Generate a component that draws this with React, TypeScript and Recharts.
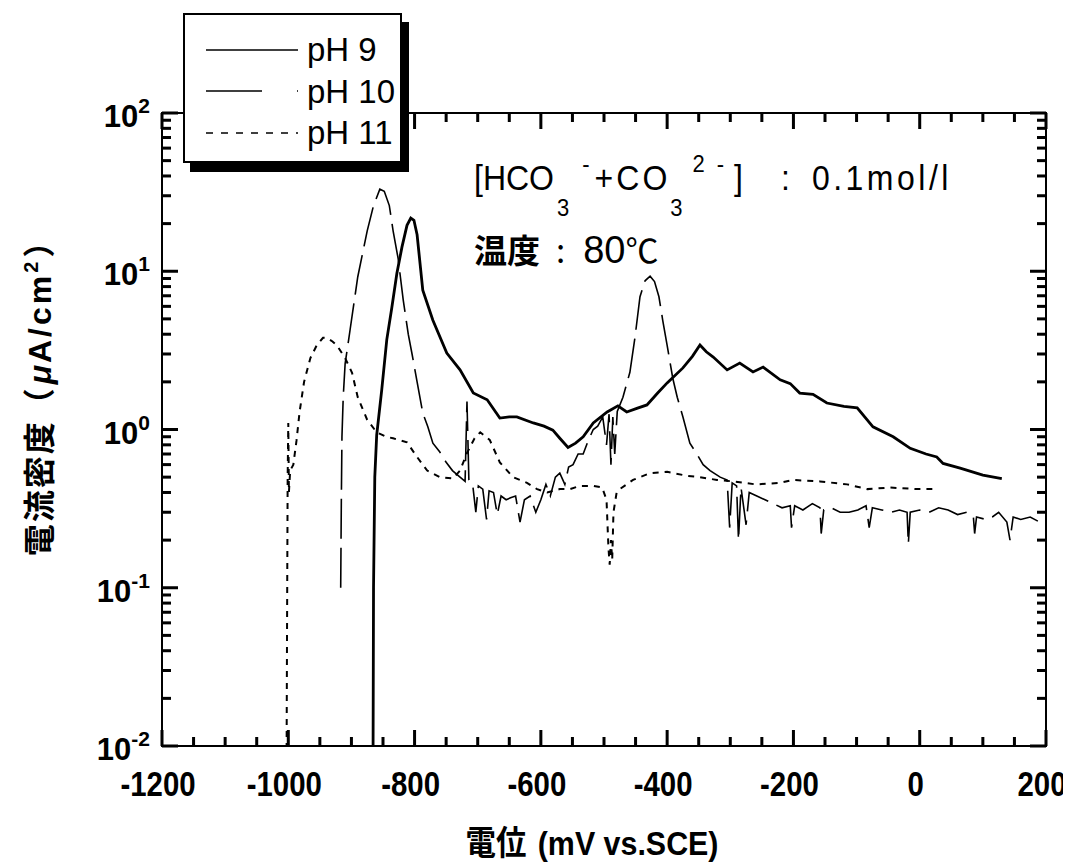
import React from 'react'
import { LineChart, Line, XAxis, YAxis } from 'recharts'

// polarization curves, [potential mV vs SCE, current density uA/cm2]
const ph9: [number, number][] = [
  [-866, 0.004], [-865, 0.1], [-863, 0.5], [-860, 0.92], [-852, 1.78], [-844, 3.7], [-836, 5.9],
  [-828, 9.7], [-820, 14.2], [-812, 19.5], [-806, 21.7], [-801, 21], [-796, 17], [-787, 7.6],
  [-771, 4.9], [-749, 3.04], [-728, 2.38], [-707, 1.7], [-685, 1.54], [-665, 1.18], [-650, 1.2],
  [-638, 1.2], [-612, 1.1], [-595, 1.05], [-581, 0.99], [-570, 0.88], [-557, 0.77], [-545, 0.82],
  [-533, 0.9], [-517, 1.1], [-495, 1.29], [-478, 1.41], [-464, 1.29], [-448, 1.36], [-432, 1.43],
  [-415, 1.7], [-400, 1.97], [-375, 2.45], [-360, 2.9], [-348, 3.42], [-338, 3.1], [-327, 2.87],
  [-305, 2.38], [-285, 2.63], [-264, 2.31], [-248, 2.48], [-221, 2.06], [-205, 1.95], [-190, 1.7],
  [-169, 1.67], [-147, 1.47], [-120, 1.4], [-99, 1.37], [-74, 1.04], [-42, 0.9], [-15, 0.76],
  [10, 0.7], [27, 0.67], [37, 0.61], [64, 0.57], [100, 0.515], [130, 0.49],
]

const ph10: [number, number][] = [
  [-917, 0.1], [-916, 0.35], [-915, 0.9], [-913, 1.6], [-910, 2.6], [-902, 4.3], [-890, 9.2],
  [-875, 18], [-865, 26], [-855, 33], [-848, 32], [-840, 26], [-834, 18], [-826, 12], [-818, 6.6],
  [-810, 4.0], [-804, 3.0], [-796, 2.0], [-787, 1.27], [-779, 1.04], [-771, 0.82], [-760, 0.72],
  [-750, 0.62], [-740, 0.55], [-728, 0.5], [-720, 0.47], [-717, 1.5], [-714, 0.48], [-708, 0.45],
  [-703, 0.3], [-699, 0.44], [-692, 0.42], [-686, 0.27], [-682, 0.41], [-675, 0.4], [-669, 0.29],
  [-663, 0.38], [-655, 0.36], [-648, 0.37], [-640, 0.38], [-633, 0.26], [-626, 0.36], [-617, 0.38],
  [-608, 0.3], [-600, 0.36], [-592, 0.45], [-585, 0.38], [-577, 0.5], [-570, 0.53], [-562, 0.45],
  [-556, 0.58], [-549, 0.6], [-541, 0.7], [-533, 0.7], [-525, 0.85], [-517, 1.0], [-510, 1.05],
  [-502, 1.2], [-496, 0.8], [-492, 1.25], [-489, 0.6], [-486, 1.2], [-483, 0.7], [-479, 1.3],
  [-470, 1.6], [-459, 2.3], [-451, 3.8], [-443, 6.9], [-435, 8.7], [-427, 9.3], [-420, 8.6],
  [-413, 6.9], [-407, 4.9], [-400, 3.4], [-391, 2.1], [-384, 1.6], [-375, 1.2], [-364, 0.82],
  [-353, 0.7], [-343, 0.6], [-332, 0.55], [-316, 0.5], [-305, 0.48], [-301, 0.24], [-297, 0.46],
  [-290, 0.44], [-287, 0.2], [-283, 0.43], [-275, 0.25], [-270, 0.4], [-258, 0.38], [-245, 0.36],
  [-232, 0.34], [-218, 0.32], [-205, 0.33], [-203, 0.24], [-198, 0.33], [-185, 0.31], [-170, 0.34],
  [-158, 0.32], [-156, 0.22], [-152, 0.31], [-140, 0.32], [-126, 0.3], [-112, 0.3], [-98, 0.31],
  [-85, 0.33], [-80, 0.24], [-75, 0.32], [-60, 0.31], [-45, 0.3], [-32, 0.31], [-20, 0.3],
  [-18, 0.19], [-15, 0.3], [0, 0.31], [15, 0.3], [30, 0.32], [45, 0.31], [60, 0.29], [75, 0.3],
  [85, 0.28], [87, 0.22], [90, 0.28], [105, 0.27], [115, 0.28], [125, 0.3], [138, 0.26],
  [143, 0.2], [148, 0.28], [160, 0.27], [175, 0.28], [190, 0.26],
]

const ph11: [number, number][] = [
  [-1003, 0.004], [-1002, 0.05], [-1001, 0.5], [-1000, 1.1], [-999, 0.4], [-997, 0.55], [-992, 0.6],
  [-987, 0.85], [-982, 1.3], [-975, 2.0], [-965, 2.83], [-955, 3.4], [-945, 3.8], [-939, 3.8],
  [-930, 3.6], [-923, 3.4], [-910, 2.83], [-899, 2.28], [-890, 1.6], [-875, 1.15], [-860, 0.96],
  [-845, 0.9], [-834, 0.88], [-812, 0.83], [-796, 0.67], [-780, 0.55], [-760, 0.5], [-739, 0.49],
  [-728, 0.55], [-717, 0.71], [-705, 0.88], [-696, 0.96], [-681, 0.86], [-665, 0.62], [-644, 0.5],
  [-622, 0.46], [-606, 0.42], [-590, 0.4], [-570, 0.42], [-554, 0.42], [-538, 0.44], [-517, 0.44],
  [-503, 0.43], [-496, 0.36], [-493, 0.18], [-491, 0.14], [-489, 0.2], [-487, 0.15], [-485, 0.3],
  [-480, 0.4], [-475, 0.42], [-454, 0.48], [-427, 0.53], [-400, 0.54], [-369, 0.51], [-348, 0.5],
  [-321, 0.48], [-296, 0.47], [-260, 0.45], [-221, 0.46], [-201, 0.48], [-158, 0.47], [-115, 0.45],
  [-83, 0.42], [-47, 0.43], [-4, 0.42], [20, 0.42],
]

const xTicks = [
  -1200, -1150, -1100, -1050, -1000, -950, -900, -850, -800, -750, -700, -650, -600, -550, -500,
  -450, -400, -350, -300, -250, -200, -150, -100, -50, 0, 50, 100, 150, 200,
]
const xLabels = [-1200, -1000, -800, -600, -400, -200, 0, 200]
const yDecades = [0.01, 0.1, 1, 10, 100]
const yExponents = ['-2', '-1', '0', '1', '2']
const yMinorSteps = [2, 3, 4, 5, 6, 7, 8, 9]

const series = [
  { name: 'pH 9', data: ph9, width: 2.8, dash: undefined, legendDash: undefined },
  { name: 'pH 10', data: ph10, width: 1.6, dash: '40 9', legendDash: '56 35' },
  { name: 'pH 11', data: ph11, width: 2, dash: '6 6', legendDash: '7 8' },
]

const toPoints = (d: [number, number][]) => d.map(([x, y]) => ({ x, y }))

const yTicks = yDecades.flatMap((d, i) =>
  i < yDecades.length - 1 ? [d, ...yMinorSteps.map(m => +(d * m).toPrecision(3))] : [d]
)

// plot box inside the svg
const W = 1060
const H = 855
const PL = 154
const PR = 1038
const PT = 105
const PB = 738

const latin = "'Liberation Sans', Arial, sans-serif"
const cjk = "'Noto Sans CJK JP', 'Liberation Sans', sans-serif"

function XTick(props: any) {
  const { payload, index } = props
  const x = Number(props.x)
  const v = payload.value
  const major = xLabels.includes(v)
  const len = major ? 16 : 9
  return (
    <g>
      {index === 0 && (
        <rect x={PL} y={PT} width={PR - PL} height={PB - PT} fill="none" stroke="#000" strokeWidth={2} />
      )}
      <rect x={x - 1.5} y={PB - len} width={3} height={len} fill="#000" />
      <rect x={x - 1.5} y={PT} width={3} height={len} fill="#000" />
      {major && (
        <text
          transform={`translate(${x - 4},${PB + 50}) scale(0.84,1)`}
          textAnchor="middle"
          fontFamily={latin}
          fontWeight={700}
          fontSize={35}
          fill="#000"
        >
          {v}
        </text>
      )}
    </g>
  )
}

function YTick(props: any) {
  const { payload } = props
  const y = Number(props.y)
  const v = payload.value
  const idx = yDecades.indexOf(v)
  const major = idx >= 0
  const len = major ? 16 : 9
  return (
    <g>
      <rect x={PL} y={y - 1.5} width={len} height={3} fill="#000" />
      <rect x={PR - len} y={y - 1.5} width={len} height={3} fill="#000" />
      {major && (
        <text x={PL - 12} y={y + 14} textAnchor="end" fontFamily={latin} fontWeight={700} fontSize={31} fill="#000">
          <tspan>10</tspan>
          <tspan dy={-14} fontSize={21}>{yExponents[idx]}</tspan>
        </text>
      )}
    </g>
  )
}

function LegendBox() {
  return (
    <div
      style={{
        position: 'absolute',
        left: 175,
        top: 5,
        width: 219,
        height: 150,
        border: '2px solid #000',
        boxShadow: '7px 9px 0 #000',
        background: '#fff',
        boxSizing: 'border-box',
        paddingTop: 14,
        paddingLeft: 21,
      }}
    >
      {series.map(s => (
        <div key={s.name} style={{ display: 'flex', alignItems: 'center', height: 41.5 }}>
          <svg width={92} height={10}>
            <line x1={0} x2={92} y1={5} y2={5} stroke="#000" strokeWidth={1.6} strokeDasharray={s.legendDash} />
          </svg>
          <span style={{ marginLeft: 9, fontFamily: latin, fontSize: 33, color: '#000', lineHeight: '33px' }}>
            {s.name}
          </span>
        </div>
      ))}
    </div>
  )
}

const sub: React.CSSProperties = { fontSize: 22, position: 'relative', top: 24 }
const sup: React.CSSProperties = { fontSize: 22, position: 'relative', top: -16 }

export default function App() {
  return (
    <div style={{ position: 'relative', width: W, height: H }}>
      <LineChart width={W} height={H} margin={{ top: PT, right: W - PR, bottom: 77, left: 94 }}>
        <XAxis
          dataKey="x"
          type="number"
          domain={[-1200, 200]}
          allowDataOverflow
          ticks={xTicks}
          interval={0}
          tick={(p: any) => <XTick {...p} />}
          tickLine={false}
          axisLine={false}
          height={40}
        />
        <YAxis
          dataKey="y"
          type="number"
          scale="log"
          domain={[0.01, 100]}
          allowDataOverflow
          ticks={yTicks}
          interval={0}
          tick={(p: any) => <YTick {...p} />}
          tickLine={false}
          axisLine={false}
          width={60}
        />
        {series.map(s => (
          <Line
            key={s.name}
            data={toPoints(s.data)}
            dataKey="y"
            type="linear"
            stroke="#000"
            strokeWidth={s.width}
            strokeDasharray={s.dash}
            dot={false}
            isAnimationActive={false}
          />
        ))}
      </LineChart>

      <LegendBox />

      <div
        style={{
          position: 'absolute',
          left: 466,
          top: 152,
          fontFamily: latin,
          fontSize: 32,
          lineHeight: '32px',
          whiteSpace: 'nowrap',
          color: '#000',
          transform: 'scaleY(1.1)',
          transformOrigin: 'left top',
        }}
      >
        <span>[HCO</span>
        <span style={{ ...sub, marginLeft: 3 }}>3</span>
        <span style={{ ...sup, marginLeft: 13 }}>-</span>
        <span style={{ marginLeft: 5, letterSpacing: 3 }}>+CO</span>
        <span style={{ ...sub, marginLeft: 0 }}>3</span>
        <span style={{ ...sup, marginLeft: 10 }}>2</span>
        <span style={{ ...sup, marginLeft: 12 }}>-</span>
        <span style={{ marginLeft: 10 }}>]</span>
        <span style={{ marginLeft: 38 }}>:</span>
        <span style={{ marginLeft: 22, letterSpacing: 3.5 }}>0.1mol/l</span>
      </div>
      <div
        style={{
          position: 'absolute',
          left: 466,
          top: 222,
          fontFamily: cjk,
          fontSize: 33,
          lineHeight: '38px',
          whiteSpace: 'nowrap',
          color: '#000',
        }}
      >
        <span style={{ fontWeight: 700 }}>温度</span>
        <span style={{ marginLeft: 16 }}>:</span>
        <span style={{ fontFamily: latin, fontSize: 38, marginLeft: 18 }}>80</span>
        <span>℃</span>
      </div>

      <div
        style={{
          position: 'absolute',
          left: 32,
          top: 382,
          transform: 'translate(-50%, -50%) rotate(-90deg)',
          fontFamily: cjk,
          fontWeight: 700,
          fontSize: 32,
          lineHeight: '34px',
          letterSpacing: 2,
          whiteSpace: 'nowrap',
          color: '#000',
        }}
      >
        電流密度（<span style={{ fontFamily: latin, fontStyle: 'italic', marginLeft: 2 }}>μ</span>
        <span style={{ fontFamily: latin, letterSpacing: 3 }}>A/cm</span>
        <span style={{ fontFamily: latin, fontSize: 20, position: 'relative', top: -13 }}>2</span>
        <span style={{ marginLeft: 2 }}>）</span>
      </div>

      <div
        style={{
          position: 'absolute',
          left: 584,
          top: 834,
          transform: 'translate(-50%, -50%) scale(0.95, 1.05)',
          fontFamily: cjk,
          fontWeight: 700,
          fontSize: 32,
          lineHeight: '34px',
          whiteSpace: 'nowrap',
          color: '#000',
        }}
      >
        電位<span style={{ fontFamily: latin, marginLeft: 12 }}>(mV vs.SCE)</span>
      </div>
    </div>
  )
}
